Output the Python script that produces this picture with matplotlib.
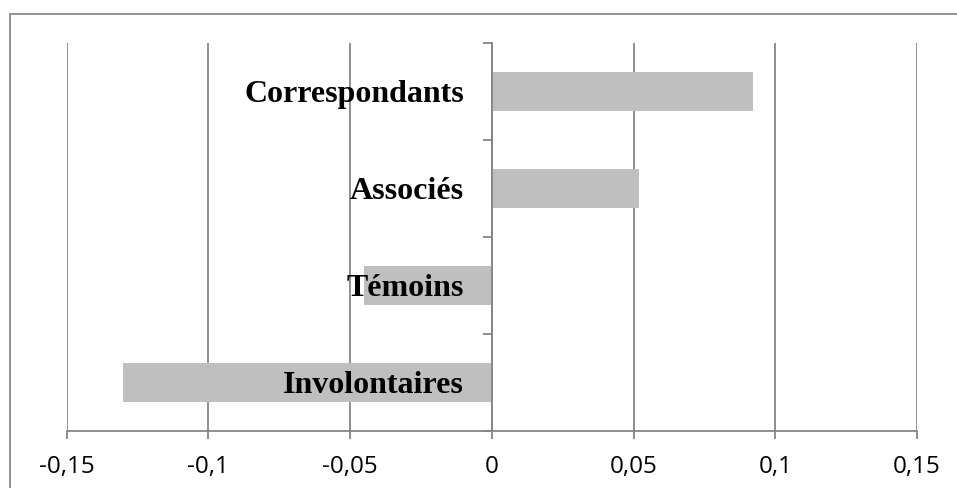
import numpy as np
import matplotlib
matplotlib.use("Agg")
import matplotlib.pyplot as plt
from matplotlib.patches import Rectangle


# Data (bottom to top)
categories = ['Involontaires', 'Témoins', 'Associés', 'Correspondants']
values = [-0.13, -0.045, 0.052, 0.092]

x_ticks = [-0.15, -0.1, -0.05, 0, 0.05, 0.1, 0.15]
x_labels = ['-0,15', '-0,1', '-0,05', '0', '0,05', '0,1', '0,15']

grid_col = '#868686'
bar_col = '#bfbfbf'

###############################################################################
# Create plot
fig = plt.figure(figsize=(9.57, 4.88), dpi=100)
ax = fig.add_axes([66.6/957, 1 - 430.7/488, (917 - 66.6)/957, (430.7 - 42.7)/488])

y = np.arange(len(categories))
ax.barh(y, values, height=0.4, color=bar_col, zorder=1)

# vertical gridlines behind the bars
ax.vlines(x_ticks, -0.5, len(categories) - 0.5, colors=grid_col,
          linewidth=1.3, zorder=0.5)

ax.set_xlim(x_ticks[0], x_ticks[-1])
ax.set_ylim(-0.5, len(categories) - 0.5)

# spines
for s in ['top', 'right']:
    ax.spines[s].set_visible(False)
ax.spines['left'].set_position(('data', 0))
ax.spines['left'].set_color(grid_col)
ax.spines['left'].set_linewidth(1.3)
ax.spines['bottom'].set_color(grid_col)
ax.spines['bottom'].set_linewidth(1.3)

# x axis
ax.set_xticks(x_ticks)
ax.set_xticklabels(x_labels, fontfamily='Open Sans', fontsize=17.5)
ax.tick_params(axis='x', direction='out', length=5.5, width=1.3,
               color=grid_col, pad=12)

# y axis: labels at centres, tick marks at category boundaries
ax.set_yticks(y)
ax.set_yticklabels(categories, fontfamily='Liberation Serif',
                   fontweight='bold', fontsize=23)
ax.tick_params(axis='y', which='major', length=0, pad=20)
ax.set_yticks(np.arange(len(categories) + 1) - 0.5, minor=True)
ax.tick_params(axis='y', which='minor', direction='out', length=6.5,
               width=1.3, color=grid_col)

# chart border
fig.patches.append(Rectangle((10/957, -0.1), 1.2, 1.1 - 14/488,
                             transform=fig.transFigure, fill=False,
                             edgecolor='#8a8a8a', linewidth=1.3))

plt.savefig('out.png', dpi=100)
